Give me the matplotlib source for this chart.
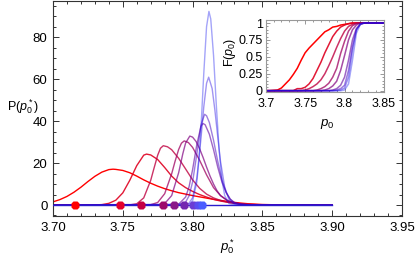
import matplotlib
matplotlib.use("Agg")
import matplotlib.pyplot as plt
from matplotlib.ticker import MultipleLocator, FixedLocator

plt.rcParams['font.family'] = ['Liberation Sans', 'DejaVu Sans']
plt.rcParams['mathtext.fontset'] = 'custom'
plt.rcParams['mathtext.rm'] = 'Liberation Sans'
plt.rcParams['mathtext.it'] = 'Liberation Sans:italic'
plt.rcParams['font.size'] = 9.5

# ---- main panel: distributions P(p0*) ----
x1 = [3.700, 3.705, 3.710, 3.715, 3.720, 3.725, 3.730, 3.735, 3.740, 3.743, 3.745, 3.750, 3.755, 3.760,
      3.765, 3.770, 3.775, 3.780, 3.785, 3.790, 3.795, 3.800, 3.805, 3.810, 3.815, 3.820, 3.825, 3.830,
      3.835, 3.840, 3.850, 3.860, 3.870, 3.900]
y1 = [1.5, 2.6, 4.1, 6.1, 8.5, 11.2, 13.7, 15.7, 16.9, 17.1, 17.0, 16.5, 15.4, 13.8,
      12.0, 10.4, 9.0, 7.8, 6.8, 5.9, 5.2, 4.5, 3.9, 3.3, 2.7, 2.2, 1.7, 1.25,
      0.9, 0.6, 0.25, 0.1, 0.03, 0.0]

x2 = [3.700, 3.725, 3.730, 3.735, 3.740, 3.745, 3.750, 3.755, 3.760, 3.765, 3.767, 3.770, 3.775, 3.780,
      3.785, 3.790, 3.795, 3.800, 3.805, 3.810, 3.815, 3.820, 3.825, 3.830, 3.835, 3.840, 3.850, 3.860, 3.900]
y2 = [0.0, 0.0, 0.05, 0.2, 0.8, 2.3, 5.8, 11.8, 18.8, 23.8, 24.3, 23.9, 21.7, 17.9,
      13.8, 10.6, 8.3, 6.5, 5.0, 3.8, 2.7, 1.9, 1.3, 0.85, 0.5, 0.3, 0.1, 0.03, 0.0]

x3 = [3.700, 3.750, 3.755, 3.760, 3.765, 3.770, 3.772, 3.775, 3.777, 3.779, 3.782, 3.785, 3.790, 3.795,
      3.800, 3.805, 3.810, 3.815, 3.820, 3.825, 3.830, 3.835, 3.840, 3.850, 3.860, 3.900]
y3 = [0.0, 0.0, 0.06, 0.6, 3.4, 11.8, 16.7, 23.8, 27.1, 28.3, 27.8, 26.4, 22.3, 17.2,
      12.0, 8.0, 5.2, 3.4, 2.2, 1.4, 0.85, 0.5, 0.28, 0.08, 0.02, 0.0]

x4 = [3.700, 3.765, 3.770, 3.775, 3.780, 3.785, 3.7875, 3.790, 3.792, 3.794, 3.797, 3.800, 3.805, 3.810,
      3.815, 3.820, 3.825, 3.830, 3.835, 3.840, 3.850, 3.900]
y4 = [0.0, 0.0, 0.18, 1.2, 5.4, 14.9, 21.0, 26.5, 29.5, 30.6, 29.8, 27.5, 21.4, 14.4,
      8.3, 4.5, 2.2, 1.0, 0.45, 0.18, 0.03, 0.0]

x5 = [3.700, 3.775, 3.780, 3.785, 3.790, 3.793, 3.795, 3.798, 3.800, 3.8025, 3.805, 3.8075, 3.810,
      3.8125, 3.815, 3.8175, 3.820, 3.825, 3.830, 3.835, 3.840, 3.900]
y5 = [0.0, 0.06, 0.7, 4.5, 15.4, 24.5, 29.6, 32.9, 32.4, 30.3, 26.9, 22.7, 18.1,
      13.8, 10.0, 6.8, 4.5, 2.0, 0.8, 0.3, 0.1, 0.0]

x6 = [3.700, 3.785, 3.790, 3.795, 3.7975, 3.800, 3.803, 3.806, 3.8075, 3.809, 3.812, 3.815, 3.818,
      3.821, 3.824, 3.827, 3.830, 3.835, 3.840, 3.900]
y6 = [0.0, 0.02, 0.41, 3.8, 8.8, 16.9, 28.8, 37.6, 38.9, 38.3, 33.8, 26.4, 18.1,
      11.0, 5.9, 2.8, 1.2, 0.4, 0.1, 0.0]

x7 = [3.700, 3.790, 3.795, 3.7975, 3.800, 3.803, 3.806, 3.8086, 3.810, 3.812, 3.815, 3.818, 3.821,
      3.824, 3.827, 3.830, 3.835, 3.840, 3.900]
y7 = [0.0, 0.07, 1.4, 4.4, 11.0, 24.2, 38.2, 43.3, 42.6, 39.4, 30.9, 20.9, 12.2,
      6.2, 2.7, 1.0, 0.3, 0.08, 0.0]

x8 = [3.700, 3.795, 3.7975, 3.800, 3.803, 3.806, 3.808, 3.810, 3.8115, 3.814, 3.816, 3.818, 3.820,
      3.823, 3.826, 3.830, 3.835, 3.900]
y8 = [0.0, 0.17, 0.9, 3.5, 12.7, 31.7, 46.8, 58.1, 61.0, 55.6, 45.1, 32.6, 20.8,
      8.5, 2.7, 0.4, 0.05, 0.0]

x9 = [3.700, 3.798, 3.800, 3.803, 3.8045, 3.806, 3.808, 3.810, 3.8117, 3.813, 3.815, 3.817, 3.819,
      3.821, 3.823, 3.826, 3.830, 3.900]
y9 = [0.0, 0.45, 1.9, 10.8, 21.2, 36.8, 62.7, 85.1, 92.4, 88.8, 71.4, 47.6, 26.2,
      11.9, 4.5, 0.74, 0.03, 0.0]

marker_x = [3.716, 3.748, 3.763, 3.779, 3.787, 3.794, 3.800, 3.804, 3.807]

# ---- inset: cumulative F(p0) ----
cdf_x = [3.700, 3.705, 3.710, 3.715, 3.720, 3.725, 3.730, 3.735, 3.740, 3.745, 3.750, 3.755, 3.760,
         3.765, 3.770, 3.775, 3.780, 3.785, 3.790, 3.795, 3.800, 3.805, 3.810, 3.815, 3.820, 3.825,
         3.830, 3.835, 3.840, 3.845, 3.850]
cdf1 = [0, 0, 0.005, 0.01, 0.04, 0.10, 0.16, 0.24, 0.33, 0.45, 0.56, 0.63, 0.69, 0.75, 0.81, 0.87,
        0.90, 0.94, 0.95, 0.97, 0.98, 0.99, 1, 1, 1, 1, 1, 1, 1, 1, 1]
cdf2 = [0, 0, 0, 0, 0, 0, 0, 0, 0.03, 0.03, 0.05, 0.10, 0.18, 0.30, 0.42, 0.56, 0.68, 0.80, 0.88,
        0.94, 0.97, 0.99, 1, 1, 1, 1, 1, 1, 1, 1, 1]
cdf3 = [0, 0, 0, 0, 0, 0, 0, 0, 0, 0, 0.01, 0.03, 0.06, 0.10, 0.16, 0.25, 0.37, 0.50, 0.64, 0.77,
        0.88, 0.95, 0.98, 1, 1, 1, 1, 1, 1, 1, 1]
cdf4 = [0, 0, 0, 0, 0, 0, 0, 0, 0, 0, 0, 0, 0, 0.01, 0.03, 0.06, 0.11, 0.20, 0.33, 0.55, 0.73,
        0.88, 0.96, 0.99, 1, 1, 1, 1, 1, 1, 1]
cdf5 = [0, 0, 0, 0, 0, 0, 0, 0, 0, 0, 0, 0, 0, 0, 0, 0.01, 0.03, 0.07, 0.14, 0.30, 0.52, 0.75,
        0.90, 0.97, 1, 1, 1, 1, 1, 1, 1]
cdf6 = [0, 0, 0, 0, 0, 0, 0, 0, 0, 0, 0, 0, 0, 0, 0, 0, 0, 0.01, 0.03, 0.08, 0.20, 0.45, 0.75,
        0.92, 0.98, 1, 1, 1, 1, 1, 1]
cdf7 = [0, 0, 0, 0, 0, 0, 0, 0, 0, 0, 0, 0, 0, 0, 0, 0, 0, 0, 0.01, 0.03, 0.08, 0.30, 0.65,
        0.90, 0.98, 1, 1, 1, 1, 1, 1]
cdf8 = [0, 0, 0, 0, 0, 0, 0, 0, 0, 0, 0, 0, 0, 0, 0, 0, 0, 0, 0, 0.01, 0.04, 0.20, 0.60,
        0.90, 0.99, 1, 1, 1, 1, 1, 1]
cdf9 = [0, 0, 0, 0, 0, 0, 0, 0, 0, 0, 0, 0, 0, 0, 0, 0, 0, 0, 0, 0, 0.01, 0.10, 0.45,
        0.85, 0.98, 1, 1, 1, 1, 1, 1]

line_colors = ['#ff0000', '#df0020', '#bf0040', '#9f0060', '#800080', '#6000a0', '#4000bf', '#2000df', '#1010ef']
line_alpha = [1.0, 0.9, 0.8, 0.75, 0.7, 0.6, 0.5, 0.42, 0.38]
marker_colors = ['#ff0000', '#e4002c', '#c40044', '#9c0a6c', '#8a1888', '#7428b0', '#6a3cd4', '#5a4cf0', '#4a5cff']

curves_x = [x1, x2, x3, x4, x5, x6, x7, x8, x9]
curves_y = [y1, y2, y3, y4, y5, y6, y7, y8, y9]
cdfs = [cdf1, cdf2, cdf3, cdf4, cdf5, cdf6, cdf7, cdf8, cdf9]

fig = plt.figure(figsize=(4.15, 2.56), dpi=100)
ax = fig.add_axes([53/415, 40/256, 349/415, 215.5/256])

for i in range(9):
    ax.plot(curves_x[i], curves_y[i], color=line_colors[i], alpha=line_alpha[i], lw=1.0, zorder=2)
ax.plot([3.70, 3.90], [0, 0], color='#2a1ccc', lw=1.0, zorder=3)
for i in range(9):
    ax.plot(marker_x[i], 0, marker='8', ms=7.0, color=marker_colors[i], mec='none', zorder=4)

ax.set_xlim(3.70, 3.95)
ax.set_ylim(-5.24, 97.6)
ax.xaxis.set_major_locator(MultipleLocator(0.05))
ax.xaxis.set_minor_locator(MultipleLocator(0.01))
ax.yaxis.set_major_locator(FixedLocator([0, 20, 40, 60, 80]))
ax.yaxis.set_minor_locator(MultipleLocator(5))
ax.xaxis.set_major_formatter(plt.FuncFormatter(lambda v, p: '%.2f' % v))
ax.tick_params(which='both', direction='in', top=True, right=True, width=0.7, color='#333333')
ax.tick_params(which='major', length=4, pad=4)
ax.tick_params(which='minor', length=2)
for s in ax.spines.values():
    s.set_color('#333333')
    s.set_linewidth(0.8)

fig.text(23/415, 1 - 107/256, r'P($p_0^*$)', ha='center', va='center', fontsize=9)
fig.text(228/415, 1 - 247/256, r'$p_0^*$', ha='center', va='center')

# inset
ins = fig.add_axes([265.7/415, (256 - 92.3)/256, 118.3/415, 72.6/256])
for i in range(9):
    ins.plot(cdf_x, cdfs[i], color=line_colors[i], alpha=line_alpha[i], lw=1.1)
ins.set_xlim(3.70, 3.85)
ins.set_ylim(-0.024, 1.049)
ins.xaxis.set_major_locator(FixedLocator([3.70, 3.75, 3.80, 3.85]))
ins.xaxis.set_minor_locator(MultipleLocator(0.01))
ins.yaxis.set_major_locator(FixedLocator([0, 0.25, 0.5, 0.75, 1]))
ins.yaxis.set_minor_locator(MultipleLocator(0.05))
ins.set_xticklabels(['3.7', '3.75', '3.8', '3.85'])
ins.set_yticklabels(['0', '0.25', '0.5', '0.75', '1'])
ins.tick_params(which='both', direction='in', top=True, right=True, width=0.6, color='#888888',
                labelsize=9)
ins.tick_params(axis='x', which='major', length=3, pad=4)
ins.tick_params(axis='y', which='major', length=3, pad=2)
ins.tick_params(which='minor', length=1.5)
for s in ins.spines.values():
    s.set_color('#999999')
    s.set_linewidth(0.8)

fig.text(230/415, 1 - 52/256, r'F($p_0$)', ha='center', va='center', rotation=90, fontsize=9)
fig.text(327/415, 1 - 124/256, r'$p_0$', ha='center', va='center')

fig.savefig('out.png', dpi=100)
